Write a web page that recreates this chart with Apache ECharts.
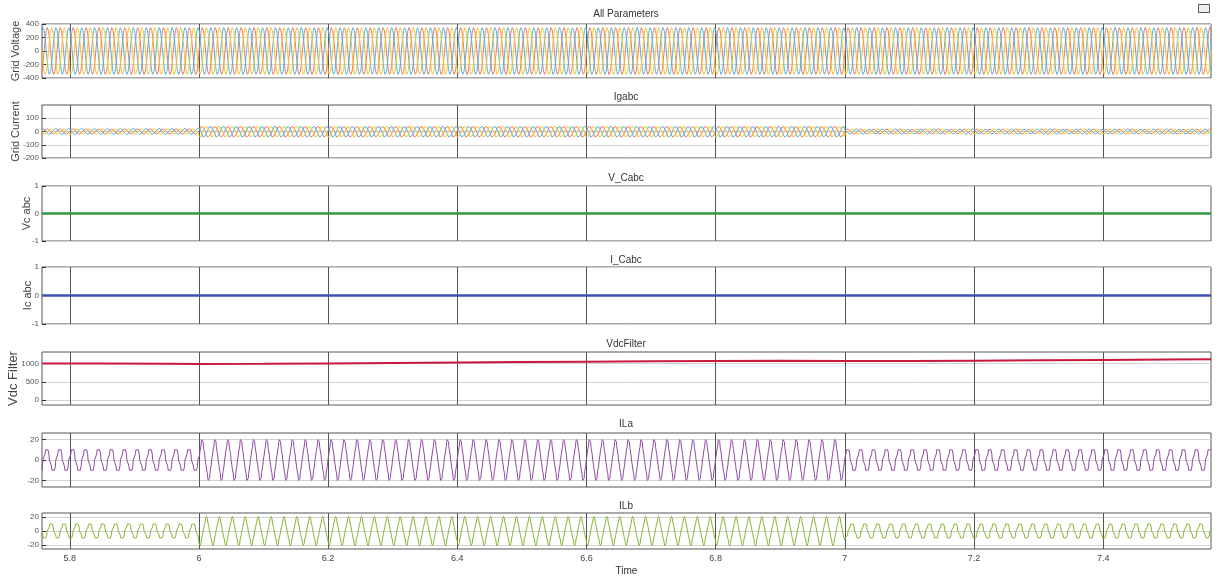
<!DOCTYPE html>
<html><head><meta charset="utf-8">
<script src="https://cdn.jsdelivr.net/npm/echarts@6/dist/echarts.min.js"></script>
<style>html,body{margin:0;padding:0;background:#fff}#c{width:1220px;height:578px}</style>
</head><body><div id="c"></div>
<script>
// ---- time axis ----
const timeStart = 5.757;
const timeEnd = 7.567;
const xTicks = [5.8, 6, 6.2, 6.4, 6.6, 6.8, 7, 7.2, 7.4];
const cyclePeriod = 0.02;          // 50 Hz
const samplesPerCycle = 30;
const segmentBreaks = [6.0, 7.0];  // load steps

// ---- one-cycle waveform shapes (30 samples) ----
const sineCycle = [0, 0.21, 0.41, 0.59, 0.74, 0.87, 0.95, 0.99, 0.99, 0.95, 0.87, 0.74, 0.59, 0.41, 0.21,
                   0, -0.21, -0.41, -0.59, -0.74, -0.87, -0.95, -0.99, -0.99, -0.95, -0.87, -0.74, -0.59, -0.41, -0.21];
const gridCurrentCycle = [0.05, 0.35, 0.5, 0.7, 0.6, 0.95, 0.8, 1.0, 0.75, 0.95, 0.7, 0.75, 0.45, 0.4, 0.1,
                          -0.05, -0.3, -0.55, -0.6, -0.85, -0.75, -1.0, -0.8, -0.95, -0.7, -0.8, -0.5, -0.35, -0.15, 0.0];
const ilLowCycle = [0, 0, 6, 10, 10, 10, 10, 10, 10, 10, 10, 6, 0, 0, 0,
                    0, 0, -6, -10, -10, -10, -10, -10, -10, -10, -10, -6, 0, 0, 0];
const ilHighCycle = [0, 5, 9, 10, 13, 18, 20, 21, 20, 18, 13, 10, 9, 5, 0,
                     0, -5, -9, -10, -13, -18, -20, -21, -20, -18, -13, -10, -9, -5, 0];

// ---- amplitudes per segment [before 6.0, 6.0-7.0, after 7.0] ----
const gridVoltagePeak = [350, 350, 350];
const gridCurrentPeak = [24, 48, 20];
const phaseShiftSamples = [0, 10, 20];

// ---- Vdc filter readings ----
const vdcTime  = [5.757, 5.85, 5.95, 6.0, 6.1, 6.2, 6.3, 6.4, 6.5, 6.6, 6.7, 6.8, 6.9, 7.0, 7.1, 7.2, 7.3, 7.4, 7.5, 7.567];
const vdcValue = [1000, 996, 988, 982, 990, 1000, 1012, 1025, 1037, 1048, 1058, 1066, 1072, 1068, 1066, 1074, 1084, 1096, 1108, 1115];

// ---- capacitor quantities (flat) ----
const vcTime = [timeStart, timeEnd], vcValue = [0, 0];
const icTime = [timeStart, timeEnd], icValue = [0, 0];

// ---- build series by repeating the read cycle shapes ----
const dt = cyclePeriod / samplesPerCycle;
const nSamples = Math.round((timeEnd - timeStart) / dt);
const iRef = Math.round((segmentBreaks[0] - timeStart) / dt);
function tile(shapes, peaks, shift) {
  const out = [];
  for (let i = 0; i <= nSamples; i++) {
    const t = timeStart + i * dt;
    const seg = t < segmentBreaks[0] ? 0 : (t < segmentBreaks[1] ? 1 : 2);
    const k = (((i - iRef + shift) % samplesPerCycle) + samplesPerCycle) % samplesPerCycle;
    out.push([t, shapes[seg][k] * peaks[seg]]);
  }
  return out;
}
const pair = (xs, ys) => xs.map((x, i) => [x, ys[i]]);

const phaseColors = ['#f07a5c', '#4cb3e6', '#f4c430'];
const seriesList = [];
phaseShiftSamples.forEach((s, p) => {
  seriesList.push({type:'line', xAxisIndex:0, yAxisIndex:0, showSymbol:false, silent:true,
    lineStyle:{width:1, color:phaseColors[p]}, data: tile([sineCycle, sineCycle, sineCycle], gridVoltagePeak, s)});
});
phaseShiftSamples.forEach((s, p) => {
  seriesList.push({type:'line', xAxisIndex:1, yAxisIndex:1, showSymbol:false, silent:true,
    lineStyle:{width:1, color:phaseColors[p]}, data: tile([gridCurrentCycle, gridCurrentCycle, gridCurrentCycle], gridCurrentPeak, s)});
});
seriesList.push({type:'line', xAxisIndex:2, yAxisIndex:2, showSymbol:false, silent:true, lineStyle:{width:2.5, color:'#2e9a40'}, data: pair(vcTime, vcValue)});
seriesList.push({type:'line', xAxisIndex:3, yAxisIndex:3, showSymbol:false, silent:true, lineStyle:{width:2.5, color:'#3d4fb2'}, data: pair(icTime, icValue)});
seriesList.push({type:'line', xAxisIndex:4, yAxisIndex:4, showSymbol:false, silent:true, lineStyle:{width:2, color:'#c8193c'}, data: pair(vdcTime, vdcValue)});
seriesList.push({type:'line', xAxisIndex:5, yAxisIndex:5, showSymbol:false, silent:true, lineStyle:{width:1, color:'#8e4aa0'},
  data: tile([ilLowCycle, ilHighCycle, ilLowCycle], [1, 1, 1], 0)});
seriesList.push({type:'line', xAxisIndex:6, yAxisIndex:6, showSymbol:false, silent:true, lineStyle:{width:1, color:'#86b534'},
  data: tile([ilLowCycle, ilHighCycle, ilLowCycle], [1, 1, 1], 20)});

// ---- layout ----
const grids = [
  {top:24, height:54}, {top:105, height:53}, {top:186, height:55}, {top:267, height:57},
  {top:352, height:53}, {top:433, height:54}, {top:513, height:36}
].map(g => Object.assign({left:42, right:9, containLabel:false, outerBoundsMode:'none',
  show:true, borderColor:'#555', borderWidth:1, backgroundColor:'#fff'}, g));

const yDefs = [
  {min:-400, max:400, ticks:[-400,-200,0,200,400], name:'Grid Voltage', gap:21, fs:11},
  {min:-200, max:200, ticks:[-200,-100,0,100], name:'Grid Current', gap:21, fs:11},
  {min:-1, max:1, ticks:[-1,0,1], name:'Vc abc', gap:10, fs:11},
  {min:-1, max:1, ticks:[-1,0,1], name:'Ic abc', gap:9, fs:11},
  {min:-130, max:1310, ticks:[0,500,1000], name:'Vdc Filter', gap:22, fs:13},
  {min:-26.5, max:26.5, ticks:[-20,0,20], name:'', gap:10, fs:11},
  {min:-26, max:26, ticks:[-20,0,20], name:'', gap:10, fs:11}
];
const titles = [['All Parameters',14],['Igabc',97],['V_Cabc',178],['I_Cabc',260],['VdcFilter',344],['ILa',424],['ILb',506]];

const xAxes = grids.map((g, i) => ({
  type:'value', gridIndex:i, min:timeStart, max:timeEnd,
  axisLine:{show:false},
  axisTick:{show:false, customValues:xTicks},
  splitLine:{show:true, lineStyle:{color:'#555', width:1}},
  axisLabel:{show:i===6, customValues:xTicks, fontSize:9, color:'#444', margin:5, fontFamily:'Liberation Sans'},
  name: i===6 ? 'Time' : '', nameLocation:'middle', nameGap:17, nameMoveOverlap:false,
  nameTextStyle:{fontSize:10, color:'#333', fontFamily:'Liberation Sans'}
}));
const yAxes = yDefs.map((d, i) => ({
  type:'value', gridIndex:i, min:d.min, max:d.max,
  axisLine:{show:false},
  axisTick:{show:true, inside:true, length:4, customValues:d.ticks, lineStyle:{color:'#333'}},
  splitLine:{show:true, lineStyle:{color:'#d2d2d2', width:1}},
  axisLabel:{customValues:d.ticks, fontSize:8, color:'#555', margin:3, fontFamily:'Liberation Sans',
    formatter: v => String(v)},
  name:d.name, nameLocation:'middle', nameGap:d.gap, nameRotate:90, nameMoveOverlap:false,
  nameTextStyle:{fontSize:d.fs, color:'#444', fontFamily:'Liberation Sans'}
}));

const chart = echarts.init(document.getElementById('c'), null, {renderer:'canvas'});
chart.setOption({
  animation:false,
  backgroundColor:'#fff',
  title: titles.map(([t, y]) => ({text:t, left:626, top:y-5, textAlign:'center', padding:0,
    textStyle:{fontSize:10, fontWeight:'normal', color:'#333', fontFamily:'Liberation Sans'}})),
  grid: grids,
  xAxis: xAxes,
  yAxis: yAxes,
  series: seriesList,
  graphic:[{type:'rect', left:1198, top:4, shape:{width:11, height:8}, style:{fill:'#eee', stroke:'#555', lineWidth:1}}]
});
</script></body></html>
